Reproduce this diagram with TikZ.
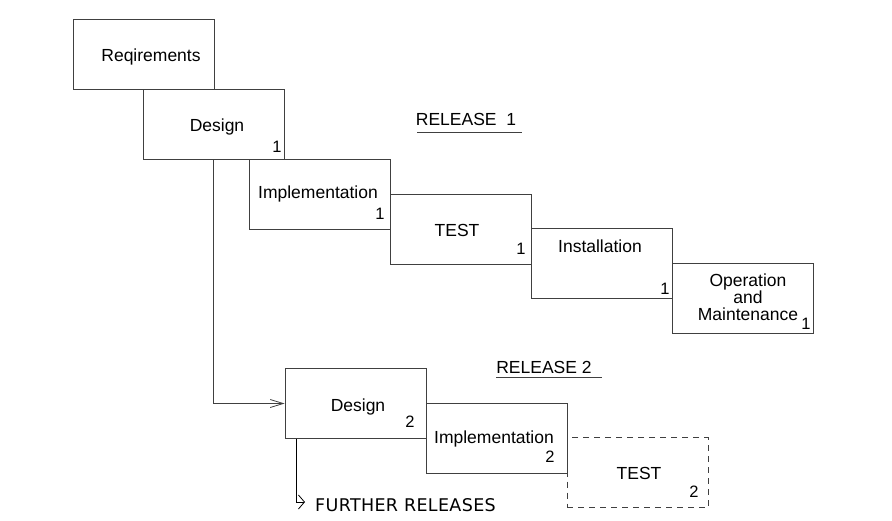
\documentclass[tikz,border=0pt]{standalone}
\usepackage{fontspec}
\setmainfont{Liberation Sans}
\newfontfamily\frfont[LetterSpace=2]{DejaVu Sans}
\usetikzlibrary{arrows.meta}
\begin{document}
\begin{tikzpicture}[x=1pt,y=-1pt,
  box/.style={draw=black!75,line width=0.9pt,minimum width=141pt,minimum height=70pt,inner sep=0pt},
  lbl/.style={font=\fontsize{17.5}{19}\selectfont,inner sep=0pt,anchor=base},
  num/.style={font=\fontsize{16.5}{18}\selectfont,inner sep=0pt,anchor=base},
  conn/.style={draw=black!75,line width=0.9pt}]
\useasboundingbox (0,0) rectangle (892,520);
% boxes
\node[box] (req) at (143.5,54) {};
\node[box] (d1) at (213.5,124) {};
\node[box] (i1) at (319.5,194) {};
\node[box] (t1) at (460.5,229) {};
\node[box] (ins) at (601.5,263.5) {};
\node[box] (om) at (742.5,298.5) {};
\node[box] (d2) at (355.5,403.5) {};
\node[box] (i2) at (496.5,438) {};
\node[box,dashed,dash pattern=on 6pt off 5pt] (t2) at (637.5,472.5) {};
% labels
\node[lbl] (reqt) at (151,61.7) {Reqirements};
\node[lbl] (d1t) at (217,131) {Design};
\node[num] (d1n) at (277,152) {1};
\node[lbl] (i1t) at (318,198.3) {Implementation};
\node[num] (i1n) at (380,219.3) {1};
\node[lbl] (t1t) at (457,236) {TEST};
\node[num] (t1n) at (521,254) {1};
\node[lbl] (inst) at (600,252.7) {Installation};
\node[num] (insn) at (665,294) {1};
\node[align=center,inner sep=0pt,font=\fontsize{17.5}{17}\selectfont] (omt) at (748,297.5) {Operation\\and\\Maintenance};
\node[num] (omn) at (806,329) {1};
\node[lbl] (d2t) at (358,411.7) {Design};
\node[num] (d2n) at (410,427.3) {2};
\node[lbl] (i2t) at (494,443.3) {Implementation};
\node[num] (i2n) at (550,462) {2};
\node[lbl] (t2t) at (639,479.3) {TEST};
\node[num] (t2n) at (694,497.3) {2};
% releases
\node[lbl] (r1) at (466,125) {RELEASE\ \ 1};
\draw[black!75,line width=0.9pt] (417,132.5) -- (522,132.5);
\node[lbl] (r2) at (544,373.3) {RELEASE 2};
\draw[black!75,line width=0.9pt] (496,377) -- (602,377);
\node[inner sep=0pt,anchor=base west,font=\frfont\fontsize{17.5}{19}\selectfont] (fr) at (315,511) {FURTHER RELEASES};
\coordinate (frend) at (305,502);
% connectors
\draw[conn,-{Straight Barb[length=13pt,width=8pt,line width=0.8pt]}] (d1.south west) ++(71,0) |- (d2.west);
\draw[conn,black,-{Straight Barb[length=6pt,width=14pt,line width=0.8pt]}] (d2.south west) ++(12,0) |- (frend);
\end{tikzpicture}
\end{document}
